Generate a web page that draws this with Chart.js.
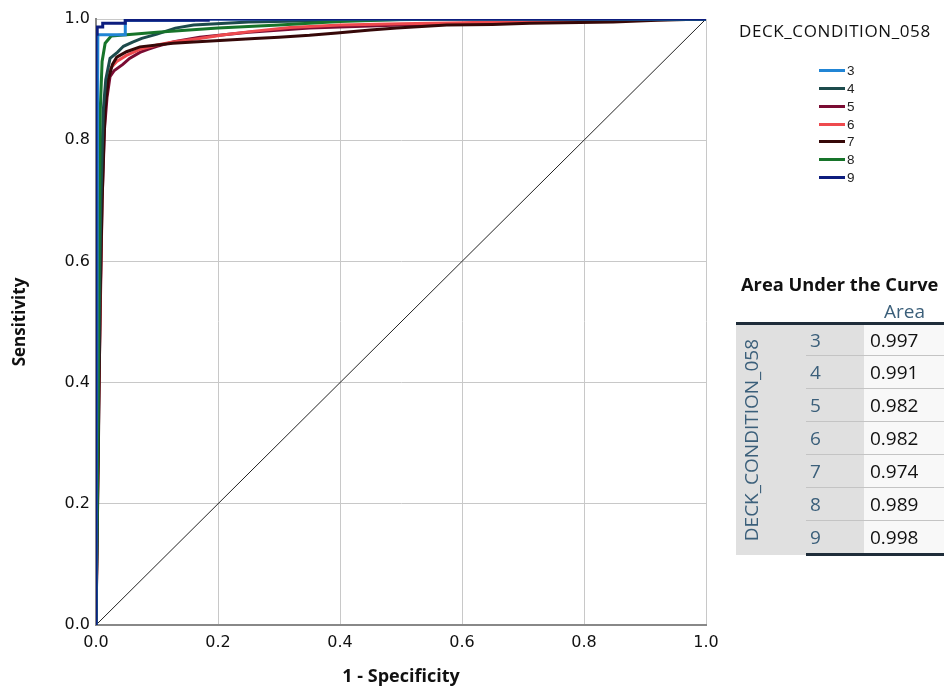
<!DOCTYPE html>
<html>
<head>
<meta charset="utf-8">
<script src="https://cdn.jsdelivr.net/npm/chart.js@4.4.0/dist/chart.umd.min.js"></script>
<style>
body{margin:0;background:#fff;}
#wrap{position:relative;width:944px;height:688px;overflow:hidden;font-family:"Open Sans",sans-serif;}
#roc{position:absolute;left:0;top:0;}
#legTitle{position:absolute;left:739px;top:19px;font-size:17px;letter-spacing:0.6px;color:#111;white-space:nowrap;}
.legItem{position:absolute;left:819px;height:14px;font-family:"Liberation Sans",Arial,sans-serif;font-size:13.5px;line-height:14px;color:#222;white-space:nowrap;}
.legItem span{display:inline-block;width:26px;height:3px;vertical-align:middle;margin-right:2px;margin-top:-2px;}
#aucTitle{position:absolute;left:741px;top:271px;font-weight:bold;font-size:18.3px;color:#111;white-space:nowrap;}
#areaHead{position:absolute;left:884px;top:298px;font-size:19px;color:#3b5f7a;}
#auc{position:absolute;left:736px;top:322px;border-collapse:collapse;font-size:19px;}
#auc td{height:33px;padding:0;border-top:1px solid #c4c4c4;}
#auc tr:first-child td{border-top:3px solid #1f2d3a;height:32px;}
#auc tr:last-child td{border-bottom:3px solid #1f2d3a;height:34px;}
#auc td.grp{width:70px;background:#e0e0e0;vertical-align:middle;border-top:3px solid #1f2d3a;}
#auc td.cat{width:58px;background:#e0e0e0;color:#3b5f7a;padding-left:4px;box-sizing:border-box;}
#auc td.val{width:80px;background:#f8f8f8;color:#111;padding-left:6px;box-sizing:border-box;}
.rot{writing-mode:vertical-rl;transform:rotate(180deg);color:#3b5f7a;margin-left:2px;white-space:nowrap;}
</style>
</head>
<body>
<div id="wrap">
  <canvas id="roc" width="944" height="688"></canvas>
  <div id="legTitle">DECK_CONDITION_058</div>
  <div id="legend"></div>
  <div id="aucTitle">Area Under the Curve</div>
  <div id="areaHead">Area</div>
  <table id="auc"></table>
</div>
<script>
// categories and AUC values
const groupName = 'DECK_CONDITION_058';
const categories = ['3', '4', '5', '6', '7', '8', '9'];
const areas = ['0.997', '0.991', '0.982', '0.982', '0.974', '0.989', '0.998'];
const colors = ['#2185d5', '#1d4b4c', '#7a0c33', '#ee4a4e', '#360808', '#17742a', '#0d1d7e'];
// drawing order, lower is on top
const drawOrder = [1, 3, 6, 5, 4, 2, 0];

// ROC points (1 - specificity, sensitivity)
const fpr3 = [0, 0.003, 0.048, 0.048, 0.16, 0.16, 1];
const tpr3 = [0, 0.974, 0.974, 0.998, 0.998, 1, 1];

const fpr4 = [0, 0.004, 0.008, 0.012, 0.016, 0.023, 0.035, 0.045, 0.06, 0.075, 0.1, 0.13, 0.16, 0.25, 0.4, 0.6, 1];
const tpr4 = [0, 0.4, 0.7, 0.85, 0.9, 0.935, 0.945, 0.955, 0.962, 0.968, 0.975, 0.985, 0.99, 0.995, 0.998, 1, 1];

const fpr5 = [0, 0.005, 0.01, 0.014, 0.018, 0.023, 0.03, 0.044, 0.055, 0.072, 0.085, 0.1, 0.13, 0.17, 0.25, 0.35, 0.5, 0.7, 0.85, 1];
const tpr5 = [0, 0.4, 0.7, 0.82, 0.87, 0.905, 0.915, 0.925, 0.935, 0.945, 0.95, 0.955, 0.963, 0.97, 0.978, 0.985, 0.99, 0.995, 0.998, 1];

const fpr6 = [0, 0.004, 0.008, 0.011, 0.015, 0.018, 0.025, 0.034, 0.05, 0.072, 0.1, 0.126, 0.17, 0.21, 0.26, 0.318, 0.4, 0.5, 0.6, 0.7, 0.8, 0.9, 1];
const tpr6 = [0, 0.35, 0.6, 0.8, 0.87, 0.904, 0.92, 0.93, 0.94, 0.95, 0.957, 0.962, 0.968, 0.974, 0.98, 0.986, 0.99, 0.992, 0.994, 0.996, 0.998, 0.999, 1];

const fpr7 = [0, 0.004, 0.007, 0.01, 0.013, 0.015, 0.02, 0.027, 0.034, 0.05, 0.072, 0.1, 0.126, 0.16, 0.21, 0.26, 0.3, 0.35, 0.395, 0.45, 0.493, 0.575, 0.65, 0.711, 0.848, 0.92, 1];
const tpr7 = [0, 0.3, 0.55, 0.7, 0.8, 0.85, 0.9, 0.925, 0.937, 0.946, 0.954, 0.957, 0.96, 0.962, 0.965, 0.968, 0.97, 0.973, 0.977, 0.982, 0.985, 0.99, 0.991, 0.993, 0.995, 0.998, 1];

const fpr8 = [0, 0.003, 0.005, 0.007, 0.01, 0.015, 0.025, 0.06, 0.1, 0.2, 0.3, 0.4, 0.5, 0.6, 1];
const tpr8 = [0, 0.3, 0.6, 0.85, 0.93, 0.96, 0.972, 0.975, 0.978, 0.985, 0.99, 0.996, 0.999, 1, 1];

const fpr9 = [0, 0, 0.002, 0.002, 0.011, 0.011, 0.048, 0.048, 0.184, 0.184, 1];
const tpr9 = [0, 0.975, 0.975, 0.987, 0.987, 0.993, 0.993, 0.998, 0.998, 1, 1];

const diagX = [0, 1];
const diagY = [0, 1];

const fprList = [fpr3, fpr4, fpr5, fpr6, fpr7, fpr8, fpr9];
const tprList = [tpr3, tpr4, tpr5, tpr6, tpr7, tpr8, tpr9];

const xTicks = [0, 0.2, 0.4, 0.6, 0.8, 1.0];
const yTicks = [0, 0.2, 0.4, 0.6, 0.8, 1.0];

function toPoints(xs, ys) {
  return xs.map((x, i) => ({x: x, y: ys[i]}));
}

const datasets = categories.map((c, i) => ({
  label: c,
  data: toPoints(fprList[i], tprList[i]),
  borderColor: colors[i],
  backgroundColor: colors[i],
  borderWidth: 3,
  showLine: true,
  pointRadius: 0,
  order: drawOrder[i]
}));
// reference line
datasets.push({
  label: 'ref',
  data: toPoints(diagX, diagY),
  borderColor: '#222',
  borderWidth: 1,
  showLine: true,
  pointRadius: 0,
  order: 10
});

const tickFont = {family: 'DejaVu Sans', size: 16};

const ctx = document.getElementById('roc').getContext('2d');
const rocChart = new Chart(ctx, {
  type: 'scatter',
  data: {datasets: datasets},
  options: {
    responsive: false,
    animation: false,
    layout: {padding: {left: 8, right: 238, top: 19, bottom: 0}},
    plugins: {
      legend: {display: false},
      tooltip: {enabled: false}
    },
    scales: {
      x: {
        type: 'linear',
        min: 0,
        max: 1,
        afterBuildTicks: s => { s.ticks = xTicks.map(v => ({value: v})); },
        afterFit: s => { s.height = 63; },
        ticks: {padding: 8, font: tickFont, color: '#111', callback: v => v.toFixed(1), maxRotation: 0},
        grid: {color: '#c8c8c8', drawTicks: false},
        border: {color: '#888', width: 2},
        title: {display: true, text: '1 - Specificity', font: {family: 'Open Sans', size: 18, weight: 'bold'}, color: '#111', padding: {top: 0, bottom: 0}}
      },
      y: {
        type: 'linear',
        min: 0,
        max: 1,
        afterBuildTicks: s => { s.ticks = yTicks.map(v => ({value: v})); },
        afterFit: s => { s.width = 88; },
        ticks: {padding: 6, font: tickFont, color: '#111', callback: v => v.toFixed(1)},
        grid: {color: '#c8c8c8', drawTicks: false},
        border: {color: '#888', width: 2},
        title: {display: true, text: 'Sensitivity', font: {family: 'Open Sans', size: 17, weight: 'bold'}, color: '#111', padding: {top: 2, bottom: 0}}
      }
    }
  }
});

// legend on the right
const legend = document.getElementById('legend');
const legTop = [64, 82, 100, 118, 135, 153, 171];
categories.forEach((c, i) => {
  const d = document.createElement('div');
  d.className = 'legItem';
  d.style.top = legTop[i] + 'px';
  d.innerHTML = '<span style="background:' + colors[i] + '"></span>' + c;
  legend.appendChild(d);
});

// AUC table
const tbl = document.getElementById('auc');
categories.forEach((c, i) => {
  const tr = document.createElement('tr');
  if (i === 0) {
    const g = document.createElement('td');
    g.className = 'grp';
    g.rowSpan = categories.length;
    g.innerHTML = '<div class="rot">' + groupName + '</div>';
    tr.appendChild(g);
  }
  const tc = document.createElement('td');
  tc.className = 'cat';
  tc.textContent = c;
  const tv = document.createElement('td');
  tv.className = 'val';
  tv.textContent = areas[i];
  tr.appendChild(tc);
  tr.appendChild(tv);
  tbl.appendChild(tr);
});
</script>
</body>
</html>
